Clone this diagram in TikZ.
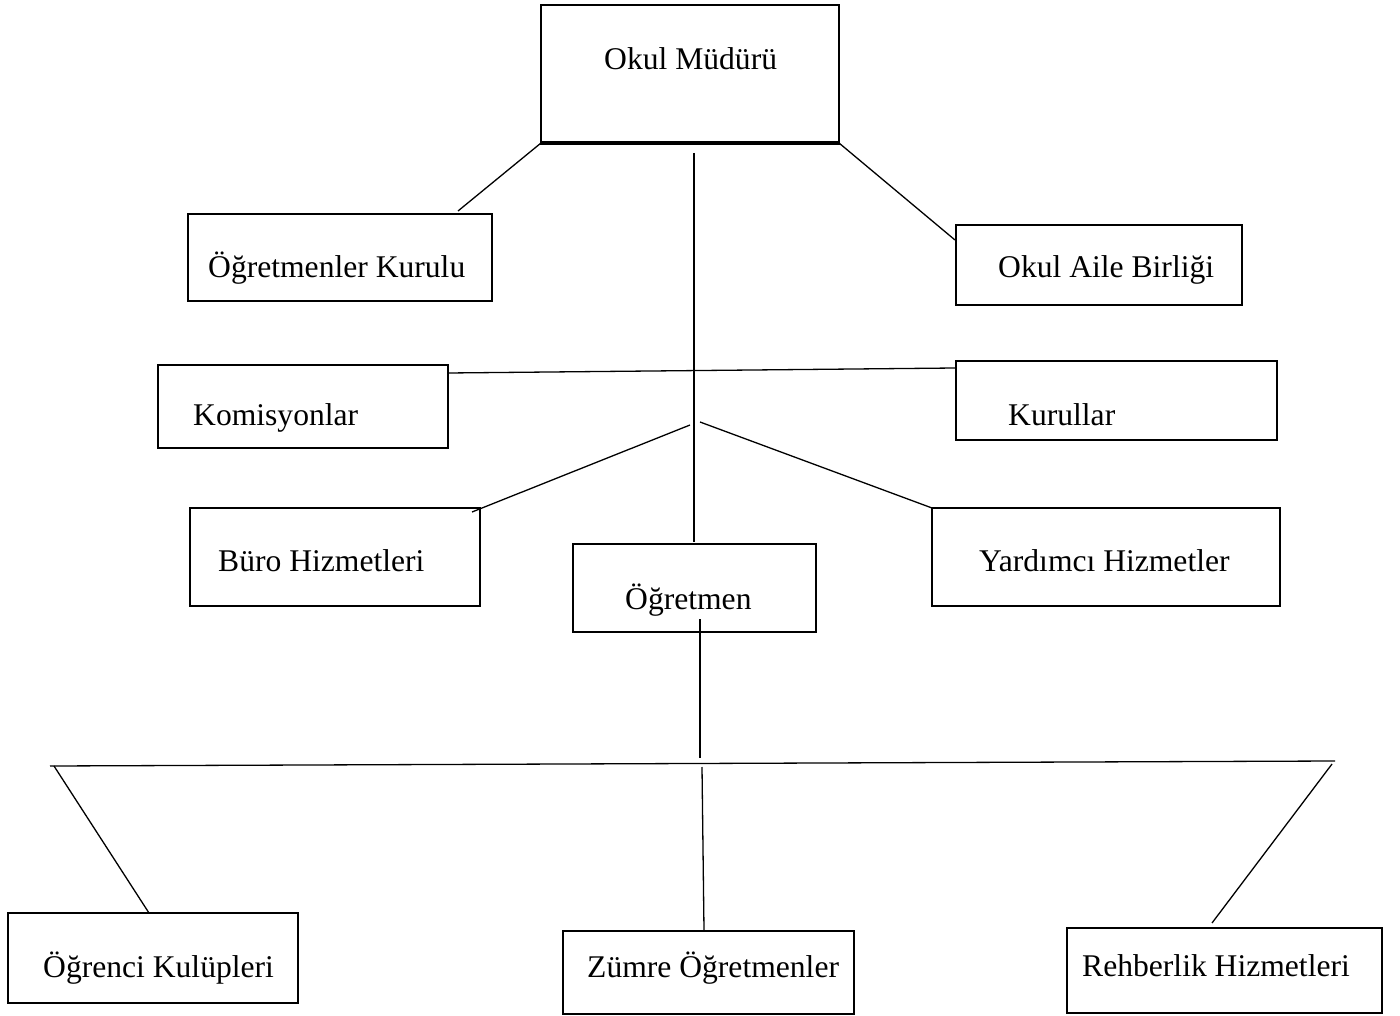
\documentclass[tikz,border=0pt]{standalone}
\usepackage{fontspec}
\setmainfont{Liberation Serif}
\begin{document}
\begin{tikzpicture}[x=1pt,y=-1pt,
  box/.style={draw=black, line width=2.8pt, inner sep=0pt, outer sep=0pt, fill=none},
  lbl/.style={anchor=base west, inner sep=0pt, font=\fontsize{31.6}{38}\selectfont},
  conn/.style={draw=black, line width=1.3pt}]
\useasboundingbox (0,0) rectangle (1400,1016);
\fill[white] (0,0) rectangle (1400,1016);
% boxes
\node[box, minimum width=298pt, minimum height=138pt] (mudur) at (690,74) {};
\draw[line width=4.8pt] ([xshift=-1pt]mudur.south west) -- ([xshift=1pt]mudur.south east);
\node[box, minimum width=304pt, minimum height=87pt] (kurulu) at (340,257.5) {};
\node[box, minimum width=286pt, minimum height=80pt] (aile) at (1099,265) {};
\node[box, minimum width=290pt, minimum height=83pt] (komisyon) at (303,406.5) {};
\node[box, minimum width=321pt, minimum height=79pt] (kurullar) at (1116.5,400.5) {};
\node[box, minimum width=290pt, minimum height=98pt] (buro) at (335,557) {};
\node[box, minimum width=348pt, minimum height=98pt] (yardimci) at (1106,557) {};
\node[box, minimum width=243pt, minimum height=88pt] (ogretmen) at (694.5,588) {};
\node[box, minimum width=290pt, minimum height=90pt] (kulup) at (153,958) {};
\node[box, minimum width=291pt, minimum height=83pt] (zumre) at (708.5,972.5) {};
\node[box, minimum width=315pt, minimum height=85pt] (rehber) at (1224.5,970.5) {};
% texts
\node[lbl] (tmudur) at (604,70) {Okul Müdürü};
\node[lbl] (tkurulu) at (208,278) {Öğretmenler Kurulu};
\node[lbl] (taile) at (998,278) {Okul Aile Birliği};
\node[lbl] (tkomisyon) at (193,425) {Komisyonlar};
\node[lbl] (tkurullar) at (1008,425) {Kurullar};
\node[lbl] (tburo) at (218,571) {Büro Hizmetleri};
\node[lbl] (tyardimci) at (979,571) {Yardımcı Hizmetler};
\node[lbl] (togretmen) at (625,609) {Öğretmen};
\node[lbl] (tkulup) at (43,977) {Öğrenci Kulüpleri};
\node[lbl] (tzumre) at (587,977) {Zümre Öğretmenler};
\node[lbl] (trehber) at (1082,976) {Rehberlik Hizmetleri};
% free ends
\coordinate (c1) at (458,211);
\coordinate (c2) at (955,240);
\coordinate (v1) at (694,153);
\coordinate (v2) at (694,542);
\coordinate (k1) at (448,373);
\coordinate (k2) at (955,368);
\coordinate (d1) at (690,425);
\coordinate (d2) at (472,512);
\coordinate (d3) at (700,422);
\coordinate (o1) at (700,619);
\coordinate (o2) at (700,758);
\coordinate (h1) at (50,766);
\coordinate (h2) at (1335,761);
\coordinate (z1) at (702,767);
\coordinate (z2) at (704,930);
\coordinate (l1) at (54,766);
\coordinate (l2) at (149,913);
\coordinate (r1) at (1332,764);
\coordinate (r2) at (1212,923);
% connectors
\draw[conn] (mudur.south west) -- (c1);
\draw[conn] (mudur.south east) -- (c2);
\draw[conn] (v1) -- (v2);
\draw[conn] (k1) -- (k2);
\draw[conn] (d1) -- (d2);
\draw[conn] (d3) -- (yardimci.north west);
\draw[conn] (o1) -- (o2);
\draw[conn] (h1) -- (h2);
\draw[conn] (z1) -- (z2);
\draw[conn] (l1) -- (l2);
\draw[conn] (r1) -- (r2);
\end{tikzpicture}
\end{document}
